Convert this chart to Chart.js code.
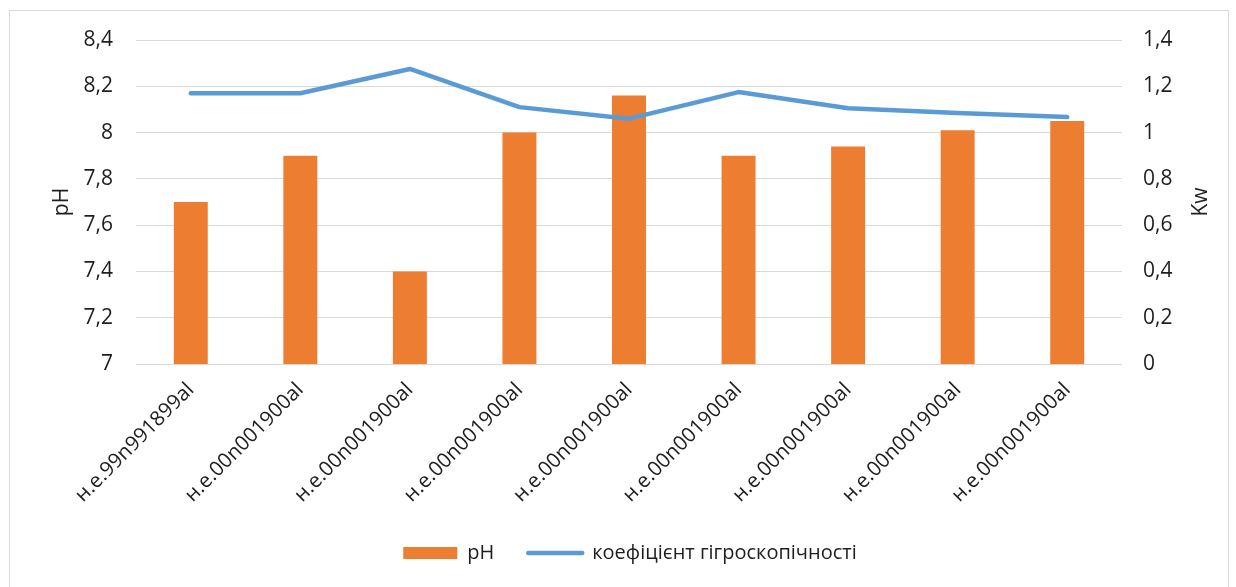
<!DOCTYPE html>
<html>
<head>
<meta charset="utf-8">
<script src="https://cdn.jsdelivr.net/npm/chart.js@4/dist/chart.umd.min.js"></script>
<style>
  html, body { margin: 0; padding: 0; background: #ffffff; }
  #wrap { position: absolute; left: 0; top: 0; width: 1236px; height: 587px; }
</style>
</head>
<body>
<div id="wrap"><canvas id="c"></canvas></div>
<script>
// Samples along the x axis
const categories = [
  'н.е.99n991899al', 'н.е.00n001900al', 'н.е.00n001900al',
  'н.е.00n001900al', 'н.е.00n001900al', 'н.е.00n001900al',
  'н.е.00n001900al', 'н.е.00n001900al', 'н.е.00n001900al'
];
// pH of each sample (left axis)
const phValues = [7.7, 7.9, 7.4, 8.0, 8.16, 7.9, 7.94, 8.01, 8.05];
// Hygroscopicity coefficient Kw (right axis)
const kwValues = [1.17, 1.17, 1.275, 1.11, 1.06, 1.175, 1.105, 1.085, 1.067];
// Axis ranges and tick step
const phRange = [7, 8.4];
const kwRange = [0, 1.4];
const tickStep = 0.2;
const seriesNames = ['pH', 'коефіцієнт гігроскопічності'];
const axisTitles = ['pH', 'Kw'];

const FONT = '"Open Sans", "DejaVu Sans", sans-serif';
const TEXT = '#1e1e1e';
const GRID = '#d9d9d9';
const ORANGE = '#ed7d31';
const BLUE = '#5b9bd5';

const fmt = v => String(Number(v.toFixed(1))).replace('.', ',');

// Outer frame of the chart
const framePlugin = {
  id: 'frame',
  beforeDraw(chart) {
    const ctx = chart.ctx;
    ctx.save();
    ctx.fillStyle = '#ffffff';
    ctx.fillRect(0, 0, chart.width, chart.height);
    ctx.strokeStyle = '#d9d9d9';
    ctx.lineWidth = 1;
    ctx.strokeRect(9.5, 10.5, 1219, 620);
    ctx.restore();
  }
};

// Vertical axis titles, both reading bottom to top
const axisTitlePlugin = {
  id: 'axisTitles',
  afterDraw(chart) {
    const ctx = chart.ctx;
    const area = chart.chartArea;
    const cy = (area.top + area.bottom) / 2;
    const spots = [[62, axisTitles[0]], [1201, axisTitles[1]]];
    ctx.save();
    ctx.fillStyle = TEXT;
    ctx.font = '21px ' + FONT;
    ctx.textAlign = 'center';
    ctx.textBaseline = 'middle';
    spots.forEach(([x, text]) => {
      ctx.save();
      ctx.translate(x, cy);
      ctx.rotate(-Math.PI / 2);
      ctx.fillText(text, 0, 0);
      ctx.restore();
    });
    ctx.restore();
  }
};

new Chart(document.getElementById('c'), {
  data: {
    labels: categories,
    datasets: [
      {
        type: 'bar',
        label: seriesNames[0],
        data: phValues,
        yAxisID: 'y',
        backgroundColor: ORANGE,
        borderWidth: 0,
        categoryPercentage: 1,
        barPercentage: 0.31,
        order: 2
      },
      {
        type: 'line',
        label: seriesNames[1],
        data: kwValues,
        yAxisID: 'y1',
        borderColor: BLUE,
        backgroundColor: BLUE,
        borderWidth: 4.5,
        borderCapStyle: 'round',
        borderJoinStyle: 'round',
        pointRadius: 0,
        tension: 0,
        order: 1
      }
    ]
  },
  options: {
    responsive: true,
    maintainAspectRatio: false,
    animation: false,
    layout: { padding: { left: 24, right: 0, top: 40, bottom: 14 } },
    plugins: {
      tooltip: { enabled: false },
      legend: {
        position: 'bottom',
        labels: {
          color: TEXT,
          font: { family: FONT, size: 20 },
          usePointStyle: true,
          pointStyleWidth: 54,
          boxHeight: 12,
          padding: 34,
          generateLabels(chart) {
            return chart.data.datasets.map((ds, i) => ({
              text: ds.label,
              datasetIndex: i,
              fillStyle: ds.type === 'bar' ? ORANGE : BLUE,
              strokeStyle: ds.type === 'bar' ? ORANGE : BLUE,
              lineWidth: ds.type === 'bar' ? 0 : 4.5,
              lineCap: 'round',
              pointStyle: ds.type === 'bar' ? 'rect' : 'line',
              fontColor: TEXT,
              hidden: false
            }));
          }
        }
      }
    },
    scales: {
      x: {
        grid: { display: false },
        border: { display: false },
        ticks: {
          color: TEXT,
          font: { family: FONT, size: 20.5 },
          minRotation: 45,
          maxRotation: 45,
          autoSkip: false,
          padding: 6
        },
        afterFit(scale) {
          scale.height = 587 - 364 - 14 - scale.chart.legend.height;
        }
      },
      y: {
        position: 'left',
        min: phRange[0],
        max: phRange[1],
        grid: { color: GRID, lineWidth: 1, drawTicks: false },
        border: { display: false },
        ticks: {
          stepSize: tickStep,
          color: TEXT,
          font: { family: FONT, size: 21 },
          padding: 23,
          callback: v => fmt(v)
        },
        afterFit(scale) { scale.width = 112; }
      },
      y1: {
        position: 'right',
        min: kwRange[0],
        max: kwRange[1],
        grid: { display: false, drawTicks: false },
        border: { display: false },
        ticks: {
          stepSize: tickStep,
          color: TEXT,
          font: { family: FONT, size: 21 },
          padding: 21,
          callback: v => fmt(v)
        },
        afterFit(scale) { scale.width = 114; }
      }
    }
  },
  plugins: [framePlugin, axisTitlePlugin]
});
</script>
</body>
</html>
